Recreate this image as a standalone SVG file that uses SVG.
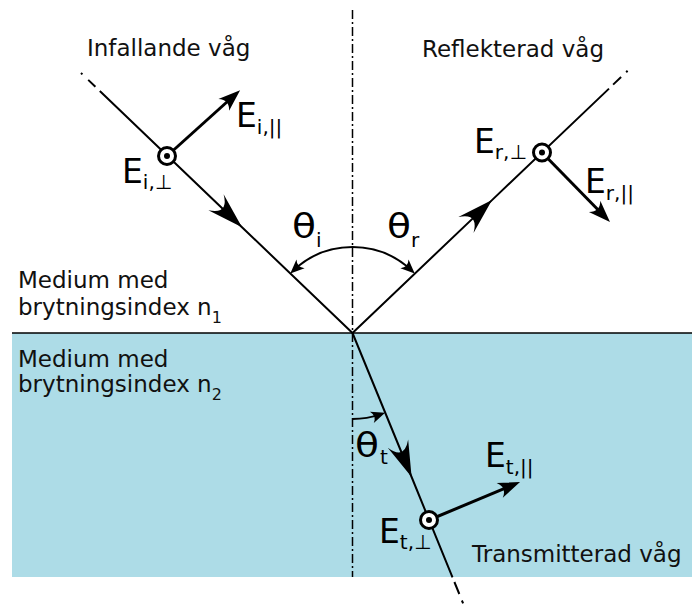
<svg xmlns="http://www.w3.org/2000/svg" width="692" height="608" viewBox="0 0 692 608">
  <style>
    .lbl { font-family: "DejaVu Sans", Verdana, sans-serif; font-size: 23px; fill: #111; }
    .sym { font-family: "DejaVu Sans", Verdana, sans-serif; font-size: 33px; fill: #000; }
    .sub { font-family: "DejaVu Sans", Verdana, sans-serif; font-size: 20px; fill: #000; }
    .ray { stroke: #000; stroke-width: 2; fill: none; }
    .vec { stroke: #000; stroke-width: 3; fill: none; }
    .arc { stroke: #000; stroke-width: 2; fill: none; }
    .perp { fill: #fff; stroke: #000; stroke-width: 3; }
  </style>
  <defs>
    <marker id="bigArrow" markerUnits="userSpaceOnUse" orient="auto" overflow="visible" refX="0" refY="0" markerWidth="1" markerHeight="1">
      <path d="M0,0 L-36,-11 Q-18,0 -36,11 Z" fill="#000"/>
    </marker>
    <marker id="vecArrow" markerUnits="userSpaceOnUse" orient="auto" overflow="visible" refX="-14" refY="0" markerWidth="1" markerHeight="1">
      <path d="M0,0 L-22,-8 Q-14,0 -22,8 Z" fill="#000"/>
    </marker>
    <marker id="arcArrow" markerUnits="userSpaceOnUse" orient="auto-start-reverse" overflow="visible" refX="-5" refY="0" markerWidth="1" markerHeight="1">
      <path d="M0,0 L-14,-6 Q-9,0 -14,6 Z" fill="#000"/>
    </marker>
  </defs>

  <!-- media -->
  <g id="medium2">
    <rect x="12" y="333" width="680" height="244" fill="#addce7"/>
  </g>
  <g id="interface">
    <line x1="12" y1="333" x2="692" y2="333" stroke="#000" stroke-width="1.5"/>
  </g>

  <g id="connectors">
    <!-- normal -->
    <line x1="352.5" y1="10" x2="352.5" y2="577" stroke="#000" stroke-width="1.5" stroke-dasharray="9,3,2,3"/>
    <!-- incident ray -->
    <path class="ray" d="M81,73 L82.4,74.4 M88.2,79.9 L95.4,86.8"/>
    <path class="ray" d="M99.8,91 L242,227.2 L352.5,333" marker-mid="url(#bigArrow)"/>
    <!-- reflected ray -->
    <path class="ray" d="M352.5,333 L492,200.1 L609,88.6" marker-mid="url(#bigArrow)"/>
    <path class="ray" d="M613.1,84.6 L621.1,77 M626.2,72.2 L627.6,70.8"/>
    <!-- transmitted ray -->
    <path class="ray" d="M352.5,333 L411.6,477 L452.5,577.4" marker-mid="url(#bigArrow)"/>
    <path class="ray" d="M454.4,582 L459.3,594 M461.9,600.5 L463.1,603.3"/>
    <!-- angle arcs -->
    <path class="arc" d="M293.95,270 A86,86 0 0 1 411.05,270" marker-start="url(#arcArrow)" marker-end="url(#arcArrow)"/>
    <path class="arc" d="M352.5,419 A86,86 0 0 0 380.4,414.4" marker-end="url(#arcArrow)"/>
    <!-- field vectors -->
    <path class="vec" d="M167,156 L229.7,99.5" marker-end="url(#vecArrow)"/>
    <path class="vec" d="M542,152.5 L600.2,212" marker-end="url(#vecArrow)"/>
    <path class="vec" d="M429,520 L507.1,487.4" marker-end="url(#vecArrow)"/>
  </g>

  <g id="incident">
    <text class="lbl" x="87" y="56">Infallande våg</text>
    <circle class="perp" cx="167" cy="156" r="8.5"/>
    <circle cx="167" cy="156" r="3" fill="#000"/>
    <text class="sym" x="236" y="127">E<tspan class="sub" dy="7">i,||</tspan></text>
    <text class="sym" x="122" y="183">E<tspan class="sub" dy="6">i,⊥</tspan></text>
  </g>

  <g id="reflected">
    <text class="lbl" x="422" y="57">Reflekterad våg</text>
    <circle class="perp" cx="542" cy="152.5" r="8.5"/>
    <circle cx="542" cy="152.5" r="3" fill="#000"/>
    <text class="sym" x="474" y="153">E<tspan class="sub" dy="6">r,⊥</tspan></text>
    <text class="sym" x="585" y="193">E<tspan class="sub" dy="7">r,||</tspan></text>
  </g>

  <g id="transmitted">
    <text class="lbl" x="472" y="562">Transmitterad våg</text>
    <circle class="perp" cx="429" cy="520" r="8.5"/>
    <circle cx="429" cy="520" r="3" fill="#000"/>
    <text class="sym" x="485" y="467">E<tspan class="sub" dy="7">t,||</tspan></text>
    <text class="sym" x="379" y="543">E<tspan class="sub" dy="6">t,⊥</tspan></text>
  </g>

  <g id="angles">
    <text class="sym" x="292" y="238" textLength="24" lengthAdjust="spacingAndGlyphs">θ</text>
    <text class="sub" x="316" y="247">i</text>
    <text class="sym" x="387" y="238" textLength="24" lengthAdjust="spacingAndGlyphs">θ</text>
    <text class="sub" x="411" y="247">r</text>
    <text class="sym" x="355" y="457" textLength="24" lengthAdjust="spacingAndGlyphs">θ</text>
    <text class="sub" x="380" y="464">t</text>
  </g>

  <g id="medium1-label">
    <text class="lbl" x="18" y="288">Medium med</text>
    <text class="lbl" x="18" y="315">brytningsindex n<tspan font-size="16" dy="8">1</tspan></text>
  </g>
  <g id="medium2-label">
    <text class="lbl" x="18" y="367">Medium med</text>
    <text class="lbl" x="18" y="392">brytningsindex n<tspan font-size="16" dy="8">2</tspan></text>
  </g>
</svg>
